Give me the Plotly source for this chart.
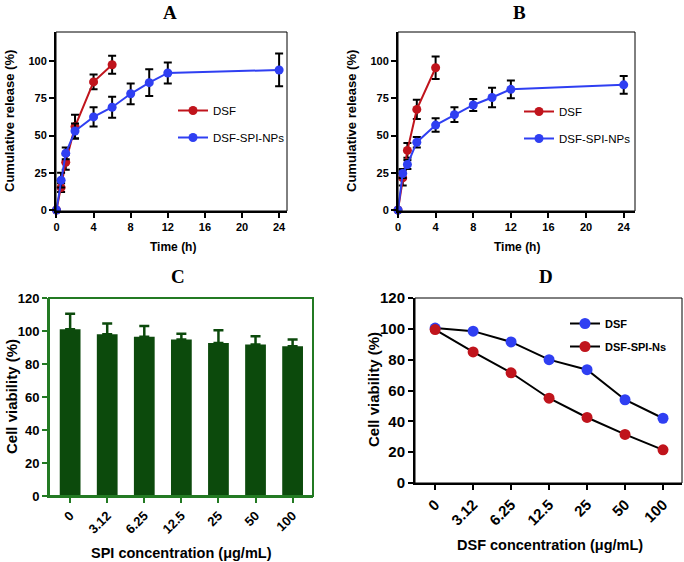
import plotly.graph_objects as go

# ---------------- data ----------------
A_dsf_t = [0, 0.5, 1, 2, 4, 6]
A_dsf_v = [0, 15, 32, 56, 86, 97.5]
A_dsf_e = [0, 3, 5, 8, 5, 6]
A_np_t = [0, 0.5, 1, 2, 4, 6, 8, 10, 12, 24]
A_np_v = [0, 20, 38, 53, 62.5, 69, 78, 85.5, 92, 94]
A_np_e = [0, 5, 4, 5, 6.5, 7, 7, 9, 7, 11]

B_dsf_t = [0, 0.5, 1, 2, 4]
B_dsf_v = [0, 21.5, 40, 67.5, 95.5]
B_dsf_e = [0, 5, 5, 6.5, 7.5]
B_np_t = [0, 0.5, 1, 2, 4, 6, 8, 10, 12, 24]
B_np_v = [0, 24.5, 30.5, 45.5, 57, 64, 70.5, 75.5, 81, 84]
B_np_e = [0, 3, 3, 3.5, 4.5, 5, 4, 6.5, 6, 6]

conc_labels = ["0", "3.12", "6.25", "12.5", "25", "50", "100"]
C_viab = [101, 98, 96.5, 94.8, 92.8, 91.8, 90.8]
C_err = [9.5, 6.5, 6.5, 3.5, 7.7, 5, 4]

D_dsf = [100.5, 98.5, 91.5, 80, 73.5, 54, 42]
D_np = [99.5, 85, 71.5, 55, 42.5, 31.5, 21.5]

time_ticks = [0, 4, 8, 12, 16, 20, 24]
rel_ticks = [0, 25, 50, 75, 100]
viab_ticks = [0, 20, 40, 60, 80, 100, 120]

# ---------------- layout helpers ----------------
W, H = 684, 562
def fx(px):
    return px / W
def fy(py):
    return 1 - py / H

RED = "#c0141c"
BLUE = "#2f3ff2"
DKGREEN = "#0c4a0c"
FRAMEGREEN = "#237a23"
SANS = "Liberation Sans, Arial, sans-serif"
SERIF = "Liberation Serif, Times New Roman, serif"

fig = go.Figure()

def err(arr, w=4):
    return dict(type="data", array=arr, visible=True, color="black", thickness=2, width=w)

# Panel A
fig.add_trace(go.Scatter(x=A_dsf_t, y=A_dsf_v, error_y=err(A_dsf_e), mode="lines+markers",
                         line=dict(color=RED, width=2), marker=dict(color=RED, size=9),
                         name="DSF", xaxis="x", yaxis="y", legend="legend", legendgroup="a1",
                         cliponaxis=False))
fig.add_trace(go.Scatter(x=A_np_t, y=A_np_v, error_y=err(A_np_e), mode="lines+markers",
                         line=dict(color=BLUE, width=2), marker=dict(color=BLUE, size=9),
                         name="DSF-SPI-NPs", xaxis="x", yaxis="y", legend="legend", legendgroup="a2",
                         cliponaxis=False))
# Panel B
fig.add_trace(go.Scatter(x=B_dsf_t, y=B_dsf_v, error_y=err(B_dsf_e), mode="lines+markers",
                         line=dict(color=RED, width=2), marker=dict(color=RED, size=9),
                         name="DSF", xaxis="x2", yaxis="y2", legend="legend2", legendgroup="b1",
                         cliponaxis=False))
fig.add_trace(go.Scatter(x=B_np_t, y=B_np_v, error_y=err(B_np_e), mode="lines+markers",
                         line=dict(color=BLUE, width=2), marker=dict(color=BLUE, size=9),
                         name="DSF-SPI-NPs", xaxis="x2", yaxis="y2", legend="legend2", legendgroup="b2",
                         cliponaxis=False))
# Panel C
fig.add_trace(go.Bar(x=conc_labels, y=C_viab, marker=dict(color=DKGREEN, line=dict(width=0)),
                     width=0.56, showlegend=False, xaxis="x3", yaxis="y3",
                     error_y=dict(type="data", symmetric=False, array=C_err,
                                  arrayminus=[0] * len(C_err), color=DKGREEN, thickness=2.5, width=5)))
# Panel D
fig.add_trace(go.Scatter(x=conc_labels, y=D_dsf, mode="lines+markers",
                         line=dict(color="black", width=2), marker=dict(color=BLUE, size=11),
                         name="DSF", xaxis="x4", yaxis="y4", legend="legend3", legendgroup="d1",
                         cliponaxis=False))
fig.add_trace(go.Scatter(x=conc_labels, y=D_np, mode="lines+markers",
                         line=dict(color="black", width=2), marker=dict(color=RED, size=11),
                         name="DSF-SPI-Ns", xaxis="x4", yaxis="y4", legend="legend3", legendgroup="d2",
                         cliponaxis=False))

tickbold = lambda s: dict(family=SANS, size=s, color="black", weight="bold")

def axis(domain, rng, tickvals=None, size=11, color="black", angle=None, anchor=None):
    d = dict(domain=domain, range=rng, showgrid=False, zeroline=False, showline=True,
             linecolor=color, linewidth=2, ticks="outside", ticklen=5, tickwidth=2,
             tickcolor=color, tickfont=tickbold(size), mirror=False, fixedrange=True,
             automargin=False)
    if tickvals is not None:
        d["tickvals"] = tickvals
    if angle is not None:
        d["tickangle"] = angle
    if anchor:
        d["anchor"] = anchor
    return d

layout = dict(
    width=W, height=H, margin=dict(l=0, r=0, t=0, b=0, autoexpand=False),
    paper_bgcolor="white", plot_bgcolor="white",
    xaxis=axis([fx(56), fx(287)], [-0.05, 24.85], time_ticks, anchor="y"),
    yaxis=axis([fy(211), fy(32)], [-0.7, 119.5], rel_ticks, anchor="x"),
    xaxis2=axis([fx(398), fx(635)], [0, 25.2], time_ticks, anchor="y2"),
    yaxis2=axis([fy(211), fy(32)], [-0.7, 119.5], rel_ticks, anchor="x2"),
    xaxis3=axis([fx(49), fx(313)], [-0.57, 6.55], None, 13, FRAMEGREEN, -45, anchor="y3"),
    yaxis3=axis([fy(496), fy(298)], [0, 120], viab_ticks, 13, FRAMEGREEN, anchor="x3"),
    xaxis4=axis([fx(415), fx(682)], [-0.53, 6.5], None, 15, "black", -45, anchor="y4"),
    yaxis4=axis([fy(483), fy(298)], [0, 120], viab_ticks, 15, "black", anchor="x4"),
    bargap=0.44,
)
layout["xaxis3"]["tickfont"]["color"] = "black"
layout["yaxis3"]["tickfont"]["color"] = "black"
layout["xaxis3"]["type"] = "category"
layout["xaxis4"]["type"] = "category"

leg = lambda x, y, gap, size=11: dict(x=fx(x), y=fy(y), xanchor="left", yanchor="top",
                                    bgcolor="rgba(0,0,0,0)", itemwidth=30, traceorder="grouped",
                                    tracegroupgap=gap, font=dict(family=SANS, size=size, color="black"),
                                    itemclick=False, itemdoubleclick=False)
layout["legend"] = leg(173, 96, 8, 11.5)
layout["legend2"] = leg(519, 97, 8, 11.5)
layout["legend3"] = leg(565, 309, 4, 11)
layout["legend3"]["font"]["weight"] = "bold"

fig.update_layout(**layout)

# frame lines (top/right thin), C green full frame
shapes = []
for xr, yr, col, w in [("x", "y", "black", 1), ("x2", "y2", "black", 1), ("x4", "y4", "black", 1),
                       ("x3", "y3", FRAMEGREEN, 2)]:
    shapes.append(dict(type="rect", xref=xr + " domain", yref=yr + " domain", x0=0, x1=1, y0=0, y1=1,
                       line=dict(color=col, width=w), layer="above"))
fig.update_layout(shapes=shapes)

ann = []
def text(x, y, s, size, family=SANS, angle=0, bold=True):
    ann.append(dict(x=fx(x), y=fy(y), xref="paper", yref="paper", text=s, showarrow=False,
                    textangle=angle, xanchor="center", yanchor="middle",
                    font=dict(family=family, size=size, color="black", weight="bold" if bold else "normal")))

text(170, 12, "A", 19, SERIF)
text(519, 12, "B", 19, SERIF)
text(178, 276, "C", 19, SERIF)
text(546, 276, "D", 19, SERIF)
text(9, 121, "Cumulative release (%)", 13, angle=-90)
text(351, 121, "Cumulative release (%)", 13, angle=-90)
text(173, 247, "Time (h)", 12)
text(517, 247, "Time (h)", 12)
text(11, 397, "Cell viability (%)", 15, angle=-90)
text(373, 389, "Cell viability (%)", 15, angle=-90)
text(181, 553, "SPI concentration (μg/mL)", 14.5)
text(550, 545, "DSF concentration (μg/mL)", 14.5)
fig.update_layout(annotations=ann)

fig.write_html("out.html", config={"displayModeBar": False},
               post_script="document.body.style.margin='0';document.body.style.overflow='hidden';")
